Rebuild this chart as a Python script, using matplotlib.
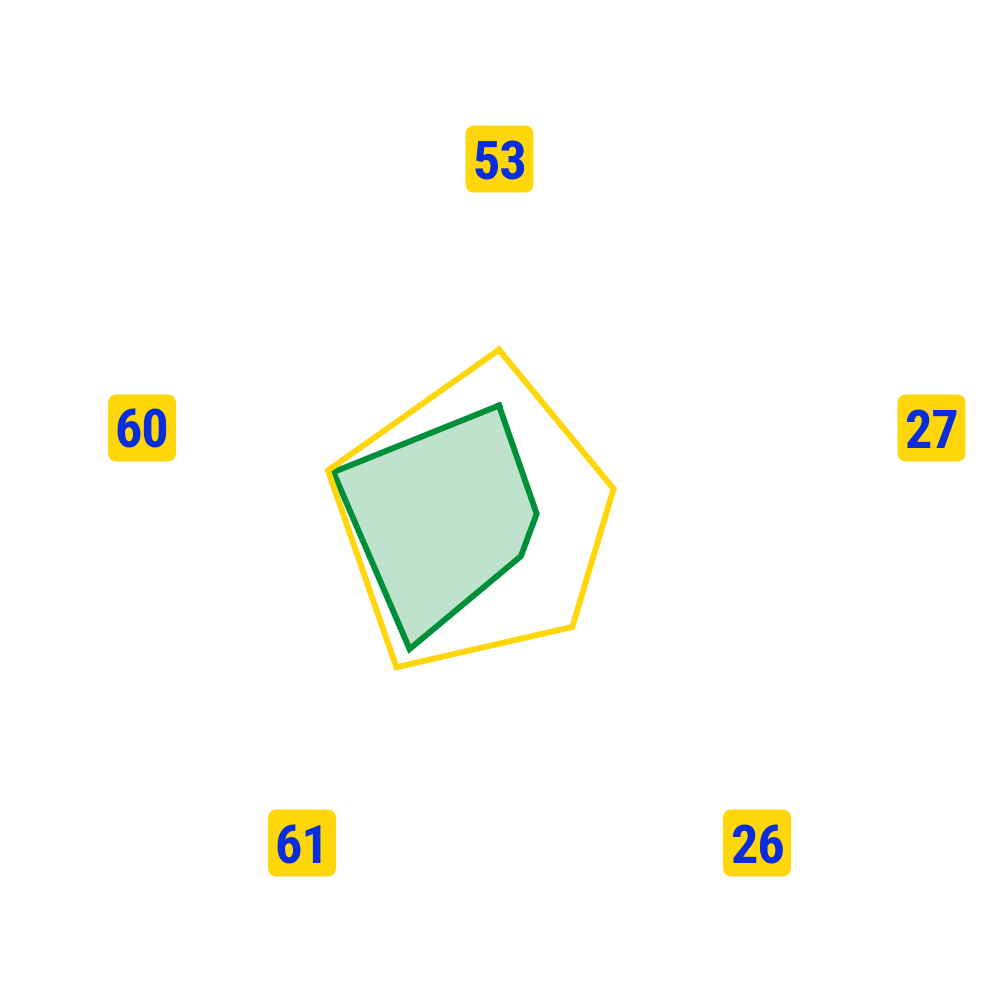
import matplotlib
matplotlib.use("Agg")
import matplotlib.pyplot as plt
from matplotlib import font_manager
from matplotlib.patches import FancyBboxPatch
import numpy as np

# categories clockwise from the top
categories = ["53", "27", "26", "61", "60"]
series_yellow = [53.4, 36.5, 37.8, 52.9, 54.5]
series_green = [36.5, 12.0, 11.3, 46.1, 52.8]

# label box centres in figure pixels (layout only)
label_px = [(499.5, 159), (931.5, 428), (757, 843), (302, 843), (142, 428)]

YELLOW = "#FFD60A"
GREEN = "#008F39"
BLUE = "#0A2DDB"

available = {f.name for f in font_manager.fontManager.ttflist}
label_font = "DejaVu Sans"
for name in ["Liberation Sans Narrow", "DejaVu Sans Condensed", "Roboto Condensed", "Open Sans Condensed"]:
    if name in available:
        label_font = name
        break

fig = plt.figure(figsize=(10, 10), dpi=100)
fig.patch.set_facecolor("white")

cx, cy, R = 499, 526, 330
ax = fig.add_axes([(cx - R) / 1000, (1000 - cy - R) / 1000, 2 * R / 1000, 2 * R / 1000], polar=True)
ax.set_theta_zero_location("N")
ax.set_theta_direction(-1)
ax.set_ylim(0, 100)

angles = np.linspace(0, 2 * np.pi, len(categories), endpoint=False)
ang_closed = np.append(angles, angles[0])

y_closed = np.append(series_yellow, series_yellow[0])
g_closed = np.append(series_green, series_green[0])

ax.fill(ang_closed, g_closed, color=GREEN, alpha=0.25, linewidth=0)
ax.plot(ang_closed, g_closed, color=GREEN, linewidth=4.3, solid_joinstyle="miter")
ax.plot(ang_closed, y_closed, color=YELLOW, linewidth=4.3, solid_joinstyle="miter")

ax.set_xticks([])
ax.set_yticks([])
ax.grid(False)
ax.spines["polar"].set_visible(False)
ax.set_facecolor("none")

bw, bh = 68, 67
for lab, (px, py) in zip(categories, label_px):
    box = FancyBboxPatch(((px - bw / 2) / 1000, 1 - (py + bh / 2) / 1000), bw / 1000, bh / 1000,
                         boxstyle="round,pad=0,rounding_size=0.009",
                         transform=fig.transFigure, facecolor=YELLOW, edgecolor="none")
    fig.patches.append(box)
    fig.text(px / 1000, 1 - (py + 20) / 1000, lab, ha="center", va="baseline",
             fontsize=39, fontweight="bold", family=label_font, fontstretch="condensed",
             color=BLUE)

fig.savefig("out.png", dpi=100, facecolor="white")
